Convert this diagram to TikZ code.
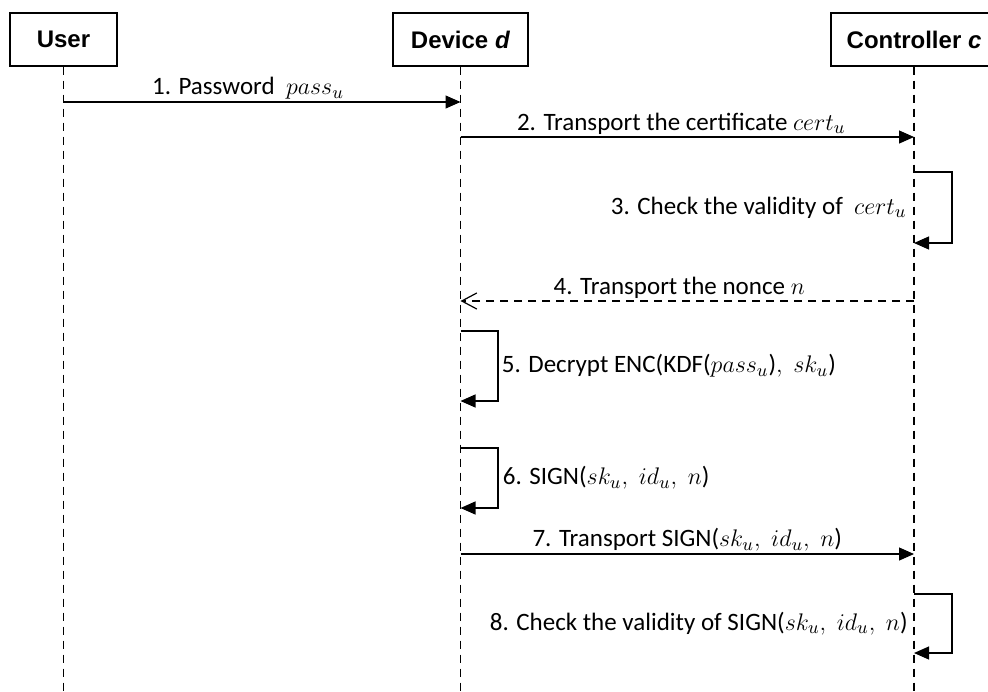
\documentclass[tikz,border=0pt]{standalone}
\usepackage{fontspec}
\setmainfont{Carlito}
\newfontfamily\headfont{Liberation Sans}
\usetikzlibrary{arrows.meta}

\tikzset{
  head/.style={draw, line width=0.6pt, minimum height=26.5pt, inner sep=0pt,
    font=\headfont\fontsize{12}{14}\selectfont\bfseries},
  life/.style={line width=0.6pt, dash pattern=on 4pt off 3pt},
  msg/.style={line width=0.6pt, -{Triangle[length=7.5pt,width=6.5pt]}},
  reply/.style={line width=0.6pt, dash pattern=on 4pt off 3pt,
    -{Straight Barb[length=7.5pt,width=8pt]}},
  lbl/.style={font=\fontsize{12.5}{15}\selectfont, inner sep=0pt}
}

\begin{document}
\begin{tikzpicture}[x=0.5pt, y=-0.5pt]
    \useasboundingbox (0,0) rectangle (988,691);
    \clip (0,0) rectangle (988,691);
    % Teste delle linee di vita
    \node[head, minimum width=53.5pt] (user) at (63.5,39.5) {User};
    \node[head, minimum width=67.5pt] (dev) at (460.5,39.5) {Device \textit{d}};
    \node[head, minimum width=83pt] (ctl) at (914,39.5) {Controller \textit{c}};
    \coordinate (bot) at (0,691);
    \draw[life] (user.south) -- (user.south |- bot);
    \draw[life] (dev.south) -- (dev.south |- bot);
    \draw[life] (ctl.south) -- (ctl.south |- bot);
    % Messaggi 1--4
    \coordinate (m1) at (0,102);
    \coordinate (m2) at (0,137);
    \coordinate (m3a) at (0,172);
    \coordinate (m3b) at (0,243);
    \coordinate (m4) at (0,301);
    \draw[msg] (user |- m1) -- node[lbl, above=1pt, xshift=-7pt] {1. Password\ \ $pass_u$} (dev |- m1);
    \draw[msg] (dev |- m2) -- node[lbl, above=1pt, xshift=-3pt] {2. Transport the certificate $cert_u$} (ctl |- m2);
    \draw[msg] (ctl |- m3a) -- ++(38,0) |- (ctl |- m3b);
    \node[lbl, anchor=east] (l3) at ([xshift=-3.5pt]ctl |- 0,207.5) {3. Check the validity of\ \ $cert_u$};
    \draw[reply] (ctl |- m4) -- node[lbl, above=1pt, xshift=-4pt] {4. Transport the nonce $n$} (dev |- m4);
    % Messaggi 5--8
    \coordinate (m5a) at (0,331);
    \coordinate (m5b) at (0,401);
    \coordinate (m6a) at (0,448);
    \coordinate (m6b) at (0,508);
    \coordinate (m7) at (0,554);
    \coordinate (m8a) at (0,594);
    \coordinate (m8b) at (0,653);
    \draw[msg] (dev |- m5a) -- ++(37.5,0) |- (dev |- m5b);
    \node[lbl, anchor=west] (l5) at ([xshift=20.5pt]dev |- 0,366) {5. Decrypt ENC(KDF($pass_u$)$,\; sk_u$)};
    \draw[msg] (dev |- m6a) -- ++(37.5,0) |- (dev |- m6b);
    \node[lbl, anchor=west] (l6) at ([xshift=21pt]dev |- 0,478) {6. SIGN($sk_u,\; id_u,\; n$)};
    \draw[msg] (dev |- m7) -- node[lbl, above=1pt] {7. Transport SIGN($sk_u,\; id_u,\; n$)} (ctl |- m7);
    \draw[msg] (ctl |- m8a) -- ++(38,0) |- (ctl |- m8b);
    \node[lbl, anchor=east] (l8) at ([xshift=-3pt]ctl |- 0,623.5) {8. Check the validity of SIGN($sk_u,\; id_u,\; n$)};
\end{tikzpicture}
\end{document}
